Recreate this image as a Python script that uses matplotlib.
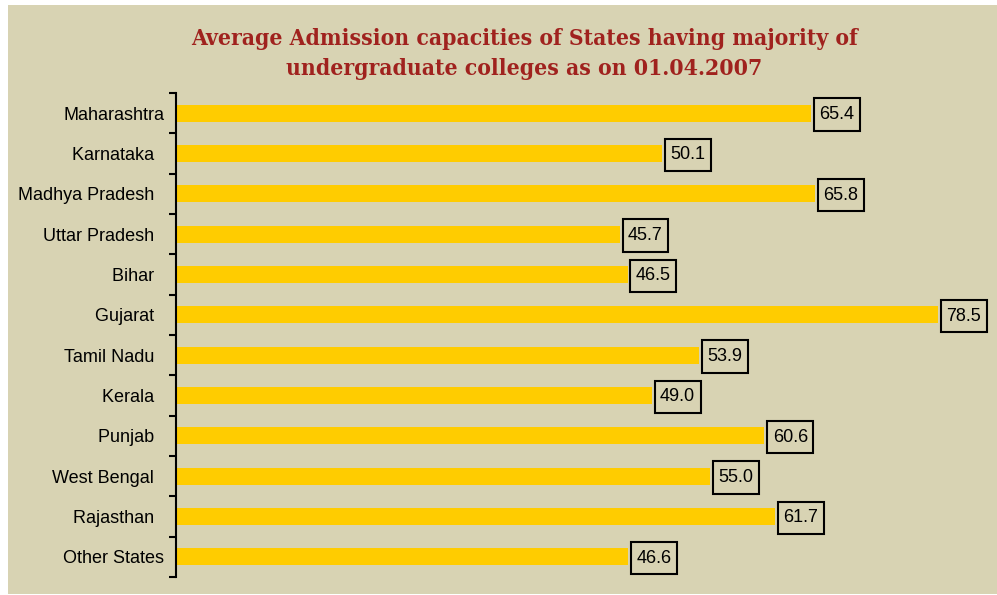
import matplotlib.pyplot as plt
from matplotlib.patches import Rectangle
from matplotlib.path import Path
import numpy as np

# data
states = ['Maharashtra', 'Karnataka  ', 'Madhya Pradesh  ', 'Uttar Pradesh  ', 'Bihar  ',
          'Gujarat  ', 'Tamil Nadu  ', 'Kerala  ', 'Punjab  ', 'West Bengal  ',
          'Rajasthan  ', 'Other States']
capacity = [65.4, 50.1, 65.8, 45.7, 46.5, 78.5, 53.9, 49.0, 60.6, 55.0, 61.7, 46.6]

bg = '#d8d3b3'
bar_col = '#ffcc00'
title_col = '#a0221e'


# square box, a bit taller than wide padding
def tall_box(x0, y0, width, height, mutation_size):
    px = 0.3 * mutation_size
    py = 0.42 * mutation_size
    x0, y0 = x0 - px, y0 - py
    x1, y1 = x0 + width + 2 * px, y0 + height + 2 * py
    return Path([(x0, y0), (x1, y0), (x1, y1), (x0, y1), (x0, y0)], closed=True)


fig = plt.figure(figsize=(9.97, 5.95), dpi=100)
fig.patch.set_facecolor('white')
fig.patches.append(Rectangle((8/997, 1/595), 1, 589/595, transform=fig.transFigure,
                             facecolor=bg, edgecolor='none', zorder=-5))

ax = fig.add_axes([176/997, 18/595, 814/997, 484/595])
ax.set_facecolor('none')
ax.set_zorder(2)

y = np.arange(len(states))
ax.barh(y, capacity, height=0.42, color=bar_col, zorder=2)
for yi, v in zip(y, capacity):
    ax.annotate('%.1f' % v, (v, yi), xytext=(6, -1), textcoords='offset points',
                ha='left', va='center', fontsize=13, family='Liberation Sans',
                bbox=dict(boxstyle=tall_box, facecolor=bg, edgecolor='black', linewidth=1.5))

ax.set_ylim(len(states) - 0.5, -0.5)
ax.set_xlim(0, 814/9.71)

# boundary ticks on the left, labels at the centres
ax.set_yticks(np.arange(-0.5, len(states), 1))
ax.set_yticklabels([])
ax.set_yticks(y, minor=True)
ax.set_yticklabels(states, minor=True, fontsize=13, family='Liberation Sans')
ax.tick_params(axis='y', which='major', length=5, width=1.5, direction='out')
ax.tick_params(axis='y', which='minor', length=0, pad=8.6)
ax.set_xticks([])
for s in ['top', 'right', 'bottom']:
    ax.spines[s].set_visible(False)
ax.spines['left'].set_linewidth(1.5)

fig.text(524/997, 1 - 54/595,
         'Average Admission capacities of States having majority of\nundergraduate colleges as on 01.04.2007',
         ha='center', va='center', multialignment='center', fontsize=16.4,
         family='DejaVu Serif', fontstretch='condensed', fontweight='bold',
         color=title_col, linespacing=1.45)

fig.savefig('out.png', dpi=100, facecolor=fig.get_facecolor())
